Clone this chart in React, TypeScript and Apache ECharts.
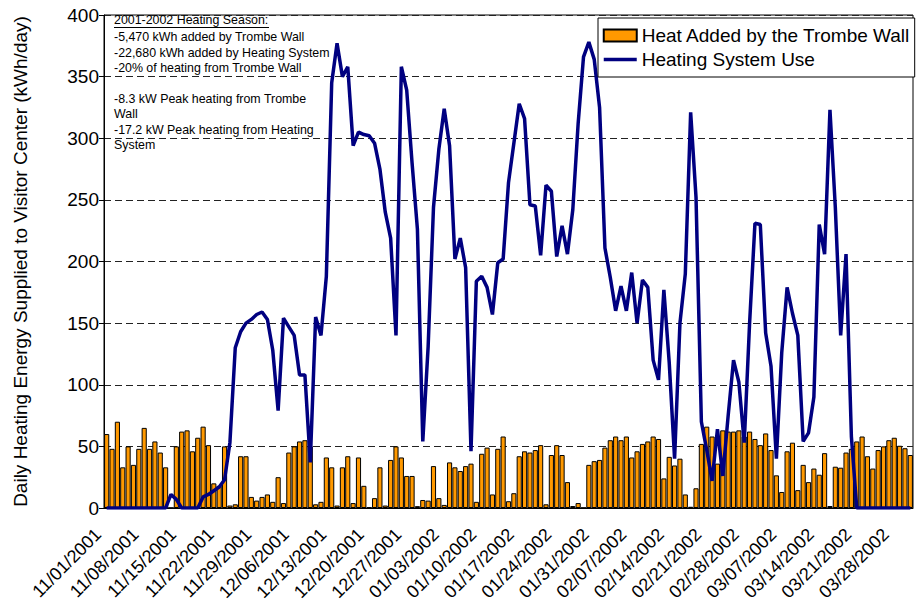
import React, { useEffect, useRef } from "react";
import * as echarts from "echarts";

// Daily categories 11/01/2001 .. 03/31/2002 (151 days)
const START_Y = 2001;
const START_M = 10; // November (0-based)
const DAY_COUNT = 151;
const categories: string[] = [];
for (let i = 0; i < DAY_COUNT; i++) {
  const d = new Date(Date.UTC(START_Y, START_M, 1 + i));
  const mm = String(d.getUTCMonth() + 1).padStart(2, "0");
  const dd = String(d.getUTCDate()).padStart(2, "0");
  categories.push(`${mm}/${dd}/${d.getUTCFullYear()}`);
}

// Heat added by the Trombe wall (kWh/day)
const trombeWall: number[] = [
  60, 48, 70, 33, 50, 35, 48, 65, 48, 54,
  45, 33, 0, 50, 62, 63, 46, 57, 66, 51,
  20, 18, 50, 2, 3, 42, 42, 9, 6, 9,
  11, 5, 25, 4, 45, 50, 54, 55, 50, 3,
  5, 41, 33, 2, 33, 42, 4, 41, 18, 0.5,
  8, 33, 2, 39, 50, 41, 26, 26, 1.5, 6.5,
  6, 34, 8, 2.5, 37, 33, 30, 34, 36, 5,
  44, 49, 11, 48, 58, 5.5, 12, 42, 46, 45,
  47, 51, 3, 43, 51, 43, 21, 1.6, 4, 0,
  35, 38, 39, 49, 55, 58, 55, 58, 41, 46,
  52, 54, 58, 56, 24, 41.5, 34.5, 40, 11, 1,
  16, 52, 66, 58, 36, 63, 62, 62, 63, 58,
  62, 56, 51, 60.5, 47, 26.5, 13, 46, 53, 14.5,
  35, 21, 32, 27, 44.5, 1.6, 33.5, 32.7, 45, 48,
  54, 58, 42, 32, 47, 50, 55, 57, 50.5, 48.5,
  43,
];

// Heating system use (kWh/day)
const heatingSystem: number[] = [
  0, 0, 0, 0, 0, 0, 0, 0, 0, 0,
  0, 0, 11, 7, 0, 0, 0, 0, 9, 11,
  14, 17, 23, 53, 130, 143, 150, 153, 157, 159,
  153, 128, 79, 154, 147, 140, 108, 108, 37, 155,
  140, 188, 345, 377, 350, 358, 294, 305, 303, 302,
  296, 275, 240, 219, 140, 358, 339, 280, 226, 54,
  131, 244, 291, 324, 294, 202, 219, 195, 46, 184,
  188, 179, 157, 199, 202, 264, 296, 328, 316, 246,
  245, 205, 262, 257, 204, 229, 206, 242, 312, 366,
  378, 364, 325, 211, 187, 160, 180, 160, 191, 150,
  185, 179, 120, 104, 177, 118, 40, 150, 190, 321,
  252, 70, 47, 22, 64, 26, 75, 120, 102, 53,
  150, 231, 230, 142, 115, 40, 126, 179, 158, 140,
  54, 61, 90, 230, 206, 323, 244, 140, 206, 58,
  0, 0, 0, 0, 0, 0, 0, 0, 0, 0,
  0,
];

const yTicks = { min: 0, max: 400, interval: 50 };

const noteLines: string[] = [
  "-5,470 kWh added by Trombe Wall",
  "-22,680 kWh added by Heating System",
  "-20% of heating from Trombe Wall",
  "",
  "-8.3 kW Peak heating from Trombe",
  "Wall",
  "-17.2 kW Peak heating from Heating",
  "System",
];
const noteTitle = "2001-2002 Heating Season:";

const FONT = "'Liberation Sans', Arial, Helvetica, sans-serif";

export default function App() {
  const ref = useRef<HTMLDivElement>(null);
  useEffect(() => {
    if (!ref.current) return;
    const chart = echarts.init(ref.current, undefined, { renderer: "svg" });
    chart.setOption({
      animation: false,
      backgroundColor: "#fff",
      textStyle: { fontFamily: FONT },
      grid: {
        left: 104,
        right: 5,
        top: 15,
        bottom: 100,
        show: true,
        borderColor: "#000",
        borderWidth: 1,
      },
      legend: {
        orient: "vertical",
        left: 598,
        top: 18,
        backgroundColor: "#fff",
        borderColor: "#000",
        borderWidth: 1,
        borderRadius: 0,
        padding: [8, 4, 8, 4],
        itemWidth: 33,
        itemHeight: 12,
        itemGap: 5,
        textStyle: { fontSize: 19, color: "#000", fontFamily: FONT },
        data: [
          { name: "Heat Added by the Trombe Wall", icon: "rect" },
          {
            name: "Heating System Use",
            itemStyle: { opacity: 0 },
            lineStyle: { width: 3.5, color: "#000080" },
          },
        ],
      },
      xAxis: {
        type: "category",
        data: categories,
        boundaryGap: true,
        axisLine: { lineStyle: { color: "#000", width: 1 } },
        axisTick: {
          interval: 6,
          length: 5,
          lineStyle: { color: "#000" },
        },
        axisLabel: {
          interval: 6,
          rotate: 45,
          fontSize: 18,
          color: "#000",
          margin: 15,
          padding: [0, 12, 0, 0],
          fontFamily: FONT,
        },
        splitLine: { show: false },
      },
      yAxis: {
        type: "value",
        min: yTicks.min,
        max: yTicks.max,
        interval: yTicks.interval,
        name: "Daily Heating Energy Supplied to Visitor Center (kWh/day)",
        nameLocation: "middle",
        nameGap: 74,
        nameTextStyle: { fontSize: 19, color: "#000", fontFamily: FONT },
        axisLine: { show: true, lineStyle: { color: "#000", width: 1 } },
        axisTick: { show: true, length: 5, lineStyle: { color: "#000" } },
        axisLabel: { fontSize: 19, color: "#000", margin: 5, fontFamily: FONT },
        splitLine: {
          show: true,
          lineStyle: { color: "#222", type: [7, 4], width: 1 },
        },
      },
      series: [
        {
          name: "Heat Added by the Trombe Wall",
          type: "bar",
          data: trombeWall,
          barCategoryGap: "4%",
          itemStyle: { color: "#FF9900", borderColor: "#000", borderWidth: 1 },
          z: 2,
        },
        {
          name: "Heating System Use",
          type: "line",
          data: heatingSystem,
          symbol: "none",
          showSymbol: false,
          lineStyle: { color: "#000080", width: 3.5 },
          itemStyle: { color: "#000080" },
          z: 3,
        },
      ],
      graphic: [
        {
          type: "text",
          left: 114,
          top: 14,
          style: {
            text: noteTitle,
            fontSize: 12.4,
            fontFamily: FONT,
            fill: "#000",
          },
          z: 10,
        },
        {
          type: "line",
          shape: { x1: 114, y1: 27.5, x2: 269, y2: 27.5 },
          style: { stroke: "#000", lineWidth: 1 },
          z: 10,
        },
        {
          type: "text",
          left: 114,
          top: 29.5,
          style: {
            text: noteLines.join("\n"),
            fontSize: 12.4,
            lineHeight: 15.4,
            fontFamily: FONT,
            fill: "#000",
          },
          z: 10,
        },
      ],
    });
    return () => chart.dispose();
  }, []);
  return (
    <div
      ref={ref}
      style={{ position: "fixed", left: 0, top: 0, width: 918, height: 608 }}
    />
  );
}
